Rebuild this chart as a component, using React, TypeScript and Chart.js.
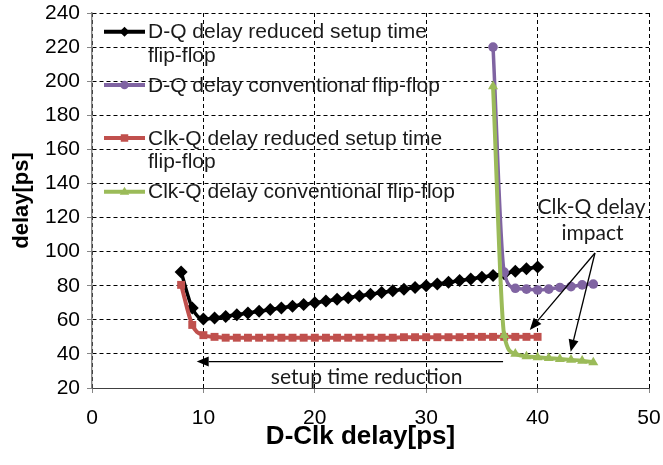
import React, { useEffect, useRef } from 'react';
import { Chart, registerables } from 'chart.js';

Chart.register(...registerables);

// ---- data ----
const dqReducedX = [8, 9, 10, 11, 12, 13, 14, 15, 16, 17, 18, 19, 20, 21, 22, 23, 24, 25, 26, 27, 28, 29, 30, 31, 32, 33, 34, 35, 36, 37, 38, 39, 40];
const dqReducedY = [88, 67, 60.5, 61, 62, 63, 64, 65, 66, 67, 68, 69, 70, 71, 72, 73, 74, 75, 76, 77, 78, 79, 80, 81, 82, 83, 84, 85, 86, 87, 88.5, 90, 91];

const dqConvX = [36, 37, 38, 39, 40, 41, 42, 43, 44, 45];
const dqConvY = [220, 88, 78.5, 78, 77.5, 78, 79, 79.5, 80.5, 81];

const clkqReducedX = [8, 9, 10, 11, 12, 13, 14, 15, 16, 17, 18, 19, 20, 21, 22, 23, 24, 25, 26, 27, 28, 29, 30, 31, 32, 33, 34, 35, 36, 37, 38, 39, 40];
const clkqReducedY = [80.5, 57, 51, 50, 49.5, 49.5, 49.5, 49.5, 49.5, 49.5, 49.5, 49.5, 49.5, 49.5, 49.5, 49.5, 49.5, 49.5, 49.5, 49.5, 49.8, 49.8, 49.8, 49.8, 49.8, 49.8, 50, 50, 50, 50, 50, 50, 50];

const clkqConvX = [36, 37, 38, 39, 40, 41, 42, 43, 44, 45];
const clkqConvY = [197, 51, 40, 38.5, 38, 37.5, 37, 36.5, 36, 35];

const xTickStep = 10;
const yTickStep = 20;

const seriesNames = [
  ['D-Q delay reduced setup time', 'flip-flop'],
  ['D-Q delay conventional flip-flop'],
  ['Clk-Q delay reduced setup time', 'flip-flop'],
  ['Clk-Q delay conventional flip-flop'],
];
const seriesColors = ['#000000', '#8064A2', '#C0504D', '#9BBB59'];
const seriesMarkers = ['rectRot', 'circle', 'rect', 'triangle'];

const xTitle = 'D-Clk delay[ps]';
const yTitle = 'delay[ps]';
const setupLabel = 'setup time reduction';
const impactLabel = ['Clk-Q delay', 'impact'];

const toPts = (xs: number[], ys: number[]) => xs.map((x, i) => ({ x, y: ys[i] }));

function drawMarker(ctx: CanvasRenderingContext2D, style: string, cx: number, cy: number, r: number, color: string) {
  ctx.save();
  ctx.fillStyle = color;
  ctx.beginPath();
  if (style === 'rectRot') {
    ctx.moveTo(cx, cy - r);
    ctx.lineTo(cx + r, cy);
    ctx.lineTo(cx, cy + r);
    ctx.lineTo(cx - r, cy);
    ctx.closePath();
  } else if (style === 'circle') {
    ctx.arc(cx, cy, r * 0.85, 0, Math.PI * 2);
  } else if (style === 'rect') {
    const h = r * 0.75;
    ctx.rect(cx - h, cy - h, 2 * h, 2 * h);
  } else {
    ctx.moveTo(cx, cy - r);
    ctx.lineTo(cx + r * 0.95, cy + r * 0.6);
    ctx.lineTo(cx - r * 0.95, cy + r * 0.6);
    ctx.closePath();
  }
  ctx.fill();
  ctx.restore();
}

function arrow(ctx: CanvasRenderingContext2D, x1: number, y1: number, x2: number, y2: number) {
  const ang = Math.atan2(y2 - y1, x2 - x1);
  const len = 12;
  const hw = 5;
  const bx = x2 - Math.cos(ang) * len;
  const by = y2 - Math.sin(ang) * len;
  ctx.beginPath();
  ctx.moveTo(x1, y1);
  ctx.lineTo(bx, by);
  ctx.stroke();
  ctx.beginPath();
  ctx.moveTo(x2, y2);
  ctx.lineTo(bx + Math.sin(ang) * hw, by - Math.cos(ang) * hw);
  ctx.lineTo(bx - Math.sin(ang) * hw, by + Math.cos(ang) * hw);
  ctx.closePath();
  ctx.fill();
}

const overlayPlugin = {
  id: 'overlay',
  afterDatasetsDraw(chart: any) {
    const { ctx, chartArea, scales } = chart;
    const sx = scales.x;
    const sy = scales.y;
    ctx.save();
    // legend inside the plot
    const rowOffsets = [18.7, 72, 125, 178.7];
    ctx.font = '21px "Liberation Sans", Arial, sans-serif';
    ctx.textBaseline = 'middle';
    ctx.textAlign = 'left';
    seriesNames.forEach((lines, i) => {
      const cy = chartArea.top + rowOffsets[i];
      const x0 = chartArea.left + 12;
      const x1 = chartArea.left + 53;
      ctx.strokeStyle = seriesColors[i];
      ctx.lineWidth = 4;
      ctx.beginPath();
      ctx.moveTo(x0, cy);
      ctx.lineTo(x1, cy);
      ctx.stroke();
      drawMarker(ctx, seriesMarkers[i], (x0 + x1) / 2, cy, 5, seriesColors[i]);
      ctx.fillStyle = '#1a1a1a';
      lines.forEach((t, j) => {
        ctx.fillText(t, chartArea.left + 56, cy + j * 23.5 + 1);
      });
    });

    // annotations
    ctx.strokeStyle = '#000';
    ctx.fillStyle = '#000';
    ctx.lineWidth = 1.3;
    arrow(ctx, sx.getPixelForValue(36.9), sy.getPixelForValue(35.5), sx.getPixelForValue(9.4), sy.getPixelForValue(35.5));
    arrow(ctx, sx.getPixelForValue(45.15), sy.getPixelForValue(99.2), sx.getPixelForValue(39.3), sy.getPixelForValue(54));
    arrow(ctx, sx.getPixelForValue(45.15), sy.getPixelForValue(99.2), sx.getPixelForValue(42.97), sy.getPixelForValue(41.3));

    ctx.font = '21px Lato, "Open Sans", sans-serif';
    ctx.textAlign = 'center';
    ctx.fillStyle = '#1a1a1a';
    ctx.fillText(setupLabel, sx.getPixelForValue(24.65), sy.getPixelForValue(26.5));
    ctx.fillText(impactLabel[0], sx.getPixelForValue(44.84), sy.getPixelForValue(126.2));
    ctx.fillText(impactLabel[1], sx.getPixelForValue(44.93), sy.getPixelForValue(111));

    // x-axis title (centred on the whole figure like the reference)
    ctx.font = 'bold 26px "Liberation Sans", Arial, sans-serif';
    ctx.fillStyle = '#000';
    ctx.fillText(xTitle, chart.width / 2 + 29, sx.bottom - 28);
    ctx.restore();
  },
};

export default function App() {
  const ref = useRef<HTMLCanvasElement | null>(null);
  useEffect(() => {
    document.body.style.margin = '0';
    const canvas = ref.current;
    if (!canvas) return;
    const mk = (label: string, xs: number[], ys: number[], i: number, radius: number, width: number, order: number) => ({
      label,
      data: toPts(xs, ys),
      borderColor: seriesColors[i],
      backgroundColor: seriesColors[i],
      pointBackgroundColor: seriesColors[i],
      pointBorderColor: seriesColors[i],
      pointBorderWidth: 0,
      pointStyle: seriesMarkers[i],
      pointRadius: radius,
      borderWidth: width,
      cubicInterpolationMode: 'monotone',
      fill: false,
      order,
    });
    const chart = new Chart(canvas, {
      type: 'line',
      data: {
        datasets: [
          mk(seriesNames[0].join(' '), dqReducedX, dqReducedY, 0, 6.5, 3.5, 4),
          mk(seriesNames[1].join(' '), dqConvX, dqConvY, 1, 4.8, 3.5, 3),
          mk(seriesNames[2].join(' '), clkqReducedX, clkqReducedY, 2, 5.6, 4, 2),
          mk(seriesNames[3].join(' '), clkqConvX, clkqConvY, 3, 5.8, 4, 1),
        ] as any,
      },
      options: {
        animation: false,
        responsive: true,
        maintainAspectRatio: false,
        layout: { padding: { top: 13, right: 14, left: 0, bottom: 0 } },
        plugins: { legend: { display: false }, tooltip: { enabled: false } },
        scales: {
          x: {
            type: 'linear',
            min: 0,
            max: 50,
            ticks: { stepSize: xTickStep, color: '#000', padding: 13, maxRotation: 0, font: { family: '"Liberation Sans", Arial, sans-serif', size: 21 } },
            grid: { color: '#000', lineWidth: 1, tickLength: 5, tickColor: '#868686', tickBorderDash: [] },
            border: { display: true, color: '#404040', width: 1, dash: [4, 3] },
            title: { display: false, text: xTitle },
            afterFit: (s: any) => { s.height = 77; s.paddingLeft = 0; s.paddingRight = 0; },
          },
          y: {
            type: 'linear',
            min: 20,
            max: 240,
            ticks: { stepSize: yTickStep, color: '#000', padding: 7, font: { family: '"Liberation Sans", Arial, sans-serif', size: 21 } },
            grid: { color: '#000', lineWidth: 1, tickLength: 5, tickColor: '#868686', tickBorderDash: [] },
            border: { display: true, color: '#868686', width: 1.5, dash: [4, 3] },
            title: { display: true, text: yTitle, color: '#000', font: { family: '"Liberation Sans", Arial, sans-serif', size: 22, weight: 'bold' }, padding: { top: 9, bottom: 0 } },
            afterFit: (s: any) => { s.width = 92; s.paddingTop = 0; s.paddingBottom = 0; },
          },
        },
      } as any,
      plugins: [overlayPlugin],
    });
    return () => chart.destroy();
  }, []);
  return (
    <div style={{ width: 663, height: 465, position: 'relative' }}>
      <canvas ref={ref} />
    </div>
  );
}
